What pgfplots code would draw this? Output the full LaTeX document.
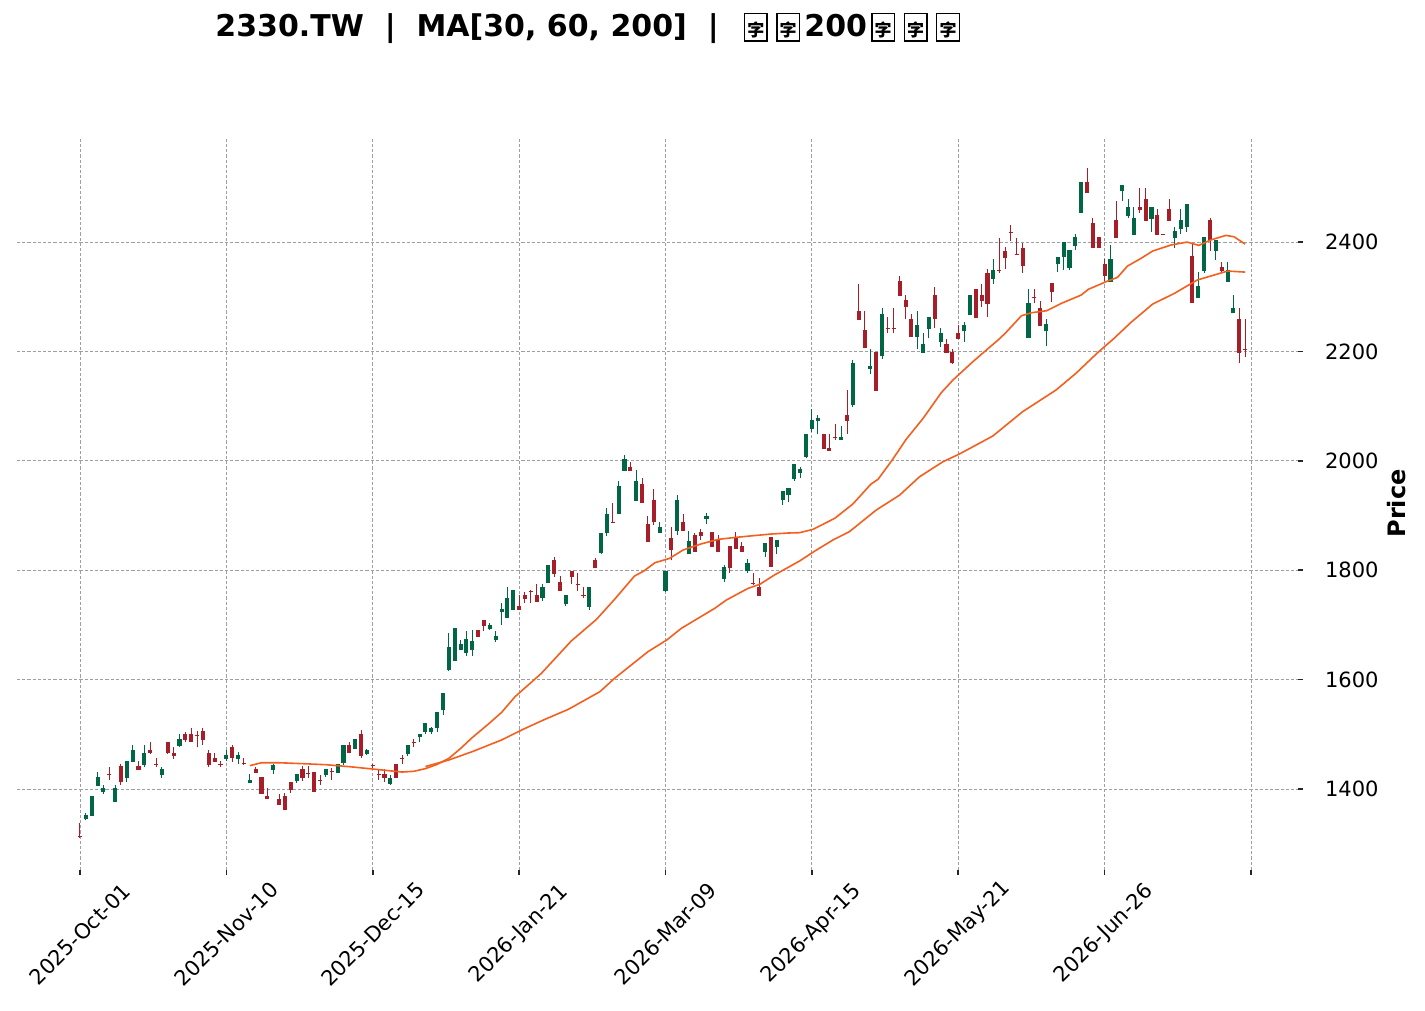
\documentclass[border=0pt]{standalone}
\usepackage{pgfplots}
\usepackage{pgfplotstable}
\pgfplotsset{compat=1.18}
\usepackage{fontspec}
\setmainfont{DejaVu Sans}
\newfontfamily\cjk{Noto Sans CJK SC}
\definecolor{cgreen}{RGB}{0,102,68}
\definecolor{cred}{RGB}{165,30,40}
\definecolor{cma}{RGB}{245,95,30}
\newcommand{\tofu}{\kern2.1pt{\setlength{\fboxsep}{0pt}\setlength{\fboxrule}{0.7pt}\fbox{\rule[-2pt]{0pt}{13pt}\makebox[10.6pt]{\cjk\fontsize{8.5}{8.5}\selectfont 字}}}\kern2.1pt}

\pgfplotstableread{
i o h l c
1 1345 1357 1343 1352.5
2 1351 1388 1350 1387
3 1406 1431 1405 1422
4 1394.5 1407 1391.5 1401
6 1376 1407 1376 1402
8 1421 1451 1412 1451
9 1450 1480 1450 1471
11 1444 1480 1441 1466
14 1425.5 1441 1421 1436.5
17 1479 1501 1477 1491
25 1455 1472 1451 1462
27 1455 1468 1445 1463
29 1411.5 1427 1411 1416
33 1435 1445 1427 1443
37 1414.5 1427.5 1411.5 1427.5
42 1425.5 1436.5 1422.5 1436.5
44 1429 1446 1428.5 1446
45 1448 1480 1444 1480
47 1474 1491 1474 1491
49 1464 1473 1461.5 1471
53 1410 1426 1407 1421
56 1464.5 1480.5 1461 1480.5
58 1495.5 1500.5 1485 1500.5
59 1505 1520 1500 1520
60 1505 1513 1500.5 1511.5
61 1511 1540 1505 1540
62 1544.5 1575 1534.5 1575
63 1617.5 1684.5 1616 1659
64 1634.5 1693.5 1634.5 1693.5
65 1654 1672 1654 1665
66 1649.5 1689.5 1644 1673.5
67 1654 1690.5 1644 1670.5
70 1693 1704 1690.5 1699
71 1672.5 1689.5 1669 1679.5
72 1723.5 1739.5 1699 1729
73 1713 1768.5 1713 1748.5
74 1727.5 1764 1727.5 1764
79 1748.5 1774 1743 1769
80 1777 1809.5 1777 1809.5
83 1738.5 1754.5 1734 1754.5
87 1732.5 1769 1728 1769
89 1832 1868 1829 1868
90 1867.5 1913 1862.5 1902.5
92 1902 1963 1902 1954
93 1982 2011.5 1982 2003
95 1927 1983 1927 1963
99 1867.5 1888.5 1867.5 1879.5
100 1762.5 1798.5 1760.5 1798.5
102 1872 1937.5 1863.5 1928.5
104 1829 1872 1829 1852.5
107 1894 1904 1884.5 1899
110 1784.5 1809.5 1779 1806
114 1798.5 1820 1794 1813.5
117 1834 1849 1823.5 1849
119 1843 1855 1829 1855
120 1928.5 1944.5 1918.5 1944.5
121 1938 1949.5 1924 1949.5
122 1966.5 1994 1963.5 1994
123 1978 1989 1968 1985
124 2007.5 2049 2004.5 2049
125 2058.5 2094 2053 2074.5
126 2073.5 2083 2049 2078
130 2038 2063 2038 2043
132 2102.5 2184 2097.5 2178.5
135 2168.5 2203.5 2158 2173
137 2191.5 2278.5 2187 2268.5
143 2227 2273.5 2203.5 2248
144 2197.5 2233 2197.5 2213.5
145 2241.5 2262 2224 2262
147 2217.5 2242 2207.5 2234
151 2238 2253 2217.5 2248
152 2266.5 2303 2266.5 2303
156 2333 2369 2323 2348.5
162 2224 2313.5 2224 2288
165 2238 2258.5 2210 2250
167 2359 2373 2344.5 2373
168 2373 2399.5 2348.5 2399.5
169 2353 2385.5 2348.5 2385.5
170 2392.5 2414.5 2385.5 2408.5
171 2453.5 2509.5 2453.5 2509.5
176 2327.5 2394 2327.5 2369
178 2493.5 2504 2475 2504
179 2448 2478 2443 2463.5
180 2412.5 2463.5 2412.5 2443
183 2442.5 2463.5 2419 2463.5
187 2408 2428 2388.5 2420
188 2423 2459.5 2414.5 2440
189 2428 2469.5 2419 2469.5
191 2298 2344.5 2298 2319.5
192 2347.5 2408.5 2344 2408.5
194 2384 2403.5 2368 2403.5
196 2327.5 2364 2327.5 2348.5
197 2269.5 2304 2269.5 2278.5
}\greentab

\pgfplotstableread{
i o h l c
0 1314 1337 1311 1312
5 1428 1441 1416 1426
7 1442 1445 1407 1412
10 1442 1451 1435 1435
12 1471 1485 1464.5 1465
13 1446 1456 1441 1444.2
15 1486 1486 1464.5 1465
16 1466 1476 1455 1461
18 1501 1504 1486 1490
19 1501 1511 1485 1485
20 1498 1506 1476 1496.2
21 1506 1511 1480 1490
22 1466 1471 1441 1444
23 1457 1465 1450 1450
24 1446.5 1451 1441 1444.7
26 1477 1481 1450 1457
28 1447 1456 1444 1445.2
30 1436.5 1441 1430 1430
31 1422 1422 1391 1391
32 1387 1401 1381 1381
34 1382 1391 1371 1371
35 1386.5 1393 1361 1361
36 1413 1413 1393 1399
38 1437 1442 1415 1421
39 1428.5 1442 1421 1426.7
40 1431 1431 1395 1395
41 1417 1425 1407 1415.2
43 1432.5 1438 1416 1430.7
46 1480 1485 1465 1465
48 1500.5 1507 1456 1461
50 1443 1446 1437 1441.2
51 1428 1436 1416 1426.2
52 1427.5 1436 1413 1420.5
54 1446 1446 1421 1421
55 1457 1463 1446 1455.2
57 1486.5 1491 1476 1484.7
68 1690.5 1690.5 1678.5 1678.5
69 1709 1709 1689.5 1698.5
75 1734.5 1754.5 1727.5 1727.5
76 1754.5 1759.5 1739.5 1748
77 1761.5 1763.5 1739.5 1759.7
78 1754.5 1774 1742.5 1742.5
81 1818.5 1823.5 1788 1793.5
82 1779 1789.5 1762.5 1762.5
84 1798.5 1798.5 1774 1788
85 1775.5 1795 1762.5 1773.7
86 1755 1769 1748.5 1753.2
88 1818 1821.5 1803.5 1803.5
91 1888.5 1922 1885.5 1886.7
94 1988 1997 1982 1982
96 1957.5 1968 1922 1922
97 1884.5 1899.5 1852 1852
98 1928 1948.5 1882.5 1887.5
101 1858 1878.5 1818 1837.5
103 1887.5 1902 1872 1872
105 1864.5 1867.5 1832.5 1832.5
106 1870 1874.5 1855 1863
108 1870 1870 1843 1843
109 1857 1864.5 1834 1834
111 1844 1844 1794 1803.5
112 1860 1869 1839.5 1839.5
113 1844 1851 1834 1834
115 1777 1794 1773 1775.2
116 1769 1785 1753 1753
118 1861 1861 1806.5 1806.5
127 2049 2049 2022 2022
128 2022.5 2048.5 2018.5 2018.5
129 2044 2068 2038 2042.2
131 2083.5 2129.5 2048.5 2073.5
133 2273.5 2323 2258 2258
134 2239 2273.5 2206.5 2206.5
136 2199 2199 2128 2128
138 2243 2262 2233 2241.2
139 2243 2278.5 2233 2241.2
140 2328.5 2337.5 2302 2302
141 2294 2303 2258.5 2281.5
142 2258.5 2267.5 2227 2227
146 2303 2317 2242 2258.5
148 2213.5 2222.5 2197.5 2197.5
149 2199 2203.5 2177 2178
150 2234 2248 2222.5 2222.5
153 2314 2314 2261.5 2261.5
154 2303 2323 2281.5 2292.5
155 2342.5 2351.5 2262 2286.5
157 2349.5 2406.5 2342.5 2347.7
158 2383.5 2391.5 2351.5 2371
159 2419 2432 2402.5 2417.2
160 2378 2406.5 2376 2376.2
161 2388.5 2398 2342.5 2356.5
163 2299 2313.5 2288 2297.2
164 2278.5 2292.5 2247 2247
166 2324.5 2324.5 2291 2309
172 2509.5 2534.5 2489 2489
173 2434 2443 2388.5 2388.5
174 2408.5 2408.5 2388.5 2388.5
175 2359 2369 2329 2338.5
177 2440 2475 2408 2408
181 2463.5 2498 2453.5 2458.5
182 2478 2498 2439 2439
184 2448.5 2459.5 2412.5 2412.5
185 2415 2415.5 2413 2413.2
186 2459.5 2478 2439 2439
190 2374.5 2397.5 2289 2289
193 2440 2443 2384 2403.5
195 2353.5 2364 2342.5 2347.5
198 2258.5 2278.5 2178 2198
199 2205 2258.5 2189 2203.2
}\redtab

\begin{document}
\begin{tikzpicture}
\begin{axis}[
  scale only axis, width=640.5pt, height=366.5pt,
  xmin=-10.76, xmax=208.03, ymin=1251.9, ymax=2592,
  axis line style={draw=none},
  xtick={0,25,...,200},
  xticklabels={2025-Oct-01,2025-Nov-10,2025-Dec-15,2026-Jan-21,2026-Mar-09,2026-Apr-15,2026-May-21,2026-Jun-26,{}},
  ytick={1400,1600,...,2400},
  xtick pos=left, ytick pos=right, yticklabel pos=right,
  tick align=outside, major tick length=2.5pt,
  tick style={black!85, line width=0.8pt},
  grid=major,
  major grid style={gray!75, line width=0.4pt, dash pattern=on 1.6pt off 1pt},
  tick label style={font=\fontsize{10.5}{12.6}\selectfont},
  xticklabel style={rotate=45, anchor=center, xshift=-20.9pt, yshift=-20.9pt},
  yticklabel style={anchor=west, xshift=7.5pt},
  title={2330.TW\ \ |\ \ MA[30, 60, 200]\ \ |\ \ \tofu\tofu200\tofu\tofu\tofu},
  every axis title/.style={at={(axis description cs:0,1)}, anchor=west, inner sep=0pt, xshift=99pt, yshift=54.5pt, font=\bfseries\fontsize{15}{18}\selectfont},
  ylabel={Price},
  every axis y label/.style={at={(axis description cs:1.0773,0.5)}, rotate=90, anchor=center, font=\bfseries\fontsize{12}{14}\selectfont},
  /pgf/number format/1000 sep={},
  /pgf/number format/assume math mode=true,
]
% wicks
\addplot[draw=none, mark=none, forget plot, error bars/.cd, y dir=plus, y explicit, error mark=none, error bar style={draw=cgreen, line width=0.5pt}]
  table[x=i, y=l, y error expr=\thisrow{h}-\thisrow{l}] {\greentab};
\addplot[draw=none, mark=none, forget plot, error bars/.cd, y dir=plus, y explicit, error mark=none, error bar style={draw=cred, line width=0.5pt}]
  table[x=i, y=l, y error expr=\thisrow{h}-\thisrow{l}] {\redtab};
% bodies
\addplot[draw=none, mark=none, forget plot, error bars/.cd, y dir=plus, y explicit, error mark=none, error bar style={draw=cgreen, line width=2.05pt}]
  table[x=i, y=o, y error expr=\thisrow{c}-\thisrow{o}] {\greentab};
\addplot[draw=none, mark=none, forget plot, error bars/.cd, y dir=plus, y explicit, error mark=none, error bar style={draw=cred, line width=2.05pt}]
  table[x=i, y=c, y error expr=\thisrow{o}-\thisrow{c}] {\redtab};
% MA30
\addplot[cma, line width=0.8pt, line join=round] coordinates {
(29,1442.6) (31,1448) (34,1448) (38,1446.3) (42,1444.4) (46,1440.8) (50,1436.5)
(55,1431) (57,1432.3) (59,1437.2) (61,1445) (63,1456) (65,1474) (67,1494) (70,1521)
(72,1540) (74.3,1568.7) (78.8,1611.4) (83.9,1670.5) (88.2,1710) (91.3,1746.7)
(94.7,1789.3) (96.3,1798.5) (98.2,1813.7) (100.7,1821.6) (103,1836.9) (106,1847.8)
(109,1856.4) (112,1860) (115,1863.1) (118,1866.1) (121,1868) (122.9,1868.6)
(125.2,1874.7) (128.9,1894.8) (132,1921) (135.1,1957.5) (136.3,1966.1) (138.8,2002.6)
(141.1,2039.2) (144,2077.6) (147.1,2124.5) (149.1,2147.7) (152.5,2181.2) (154.8,2202.5)
(156.8,2220.8) (158,2232.9) (160.8,2265.2) (162.5,2270.7) (165.1,2274.4) (167.6,2287.8)
(171,2303) (172.2,2313.4) (175.5,2328.6) (177.2,2335.3) (178.9,2356) (181.2,2370)
(183.2,2383.4) (186.3,2394.4) (189.1,2399.9) (191.1,2393.8) (193.1,2403.6)
(195.7,2412.1) (197.1,2409.6) (199,2396.2)
};
% MA60
\addplot[cma, line width=0.8pt, line join=round] coordinates {
(59,1441) (63,1453) (67,1468.3) (72,1489.6) (75.8,1509.7) (79.4,1527.3) (83.4,1545.6)
(88.8,1577.9) (91.3,1602.3) (97,1651) (100.2,1672.3) (102.7,1693.7) (108.4,1730.2)
(110.4,1745.5) (114.1,1766.8) (116.1,1774.1) (118.6,1791.2) (122.9,1816.8)
(125.6,1835.7) (128.6,1855.2) (131.4,1870.4) (136,1910) (140,1937.4) (143.4,1970.9)
(147.4,1998.4) (150.2,2012.4) (155.9,2045.3) (161,2089.8) (166.7,2129.4)
(170.1,2159.9) (173.8,2197.6) (176.6,2223.8) (179.5,2253) (183.2,2286.5)
(186.9,2306) (190.8,2330.4) (193.7,2339.6) (196,2346.9) (199,2345)
};
\end{axis}
\path (-8.5pt,-70.5pt) (704pt,435pt);
\end{tikzpicture}
\end{document}
